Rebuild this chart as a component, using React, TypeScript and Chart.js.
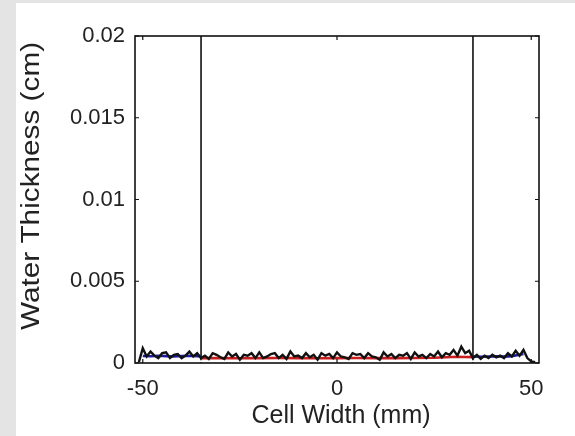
import React, { useEffect, useRef } from "react";
import { Chart, registerables } from "chart.js";

Chart.register(...registerables);

// Cell width positions (mm) for the full measured trace
const traceWidth = [
  -51, -50, -49, -48, -47, -46, -45, -44, -43, -42, -41, -40, -39, -38, -37, -36, -35, -34,
  -33, -32, -31, -30, -29, -28, -27, -26, -25, -24, -23, -22, -21, -20, -19, -18, -17, -16,
  -15, -14, -13, -12, -11, -10, -9, -8, -7, -6, -5, -4, -3, -2, -1, 0, 1, 2, 3, 4, 5, 6, 7,
  8, 9, 10, 11, 12, 13, 14, 15, 16, 17, 18, 19, 20, 21, 22, 23, 24, 25, 26, 27, 28, 29, 30,
  31, 32, 33, 34, 35, 36, 37, 38, 39, 40, 41, 42, 43, 44, 45, 46, 47, 48, 49, 50, 51,
];
// Measured water thickness (cm)
const traceThickness = [
  0.00005, 0.0009, 0.0004, 0.0007, 0.00045, 0.0003, 0.0006, 0.00065, 0.0003, 0.0005,
  0.00055, 0.0003, 0.00045, 0.0007, 0.0004, 0.0006, 0.0003, 0.00045, 0.00025, 0.0006,
  0.0005, 0.00035, 0.00025, 0.00065, 0.0004, 0.00055, 0.0002, 0.0005, 0.00045, 0.0006,
  0.0003, 0.00065, 0.0003, 0.0004, 0.00055, 0.0006, 0.0003, 0.0005, 0.00025, 0.0007,
  0.0004, 0.00045, 0.0003, 0.0006, 0.00035, 0.0005, 0.0002, 0.0006, 0.00045, 0.00055,
  0.0003, 0.00065, 0.0004, 0.00035, 0.00025, 0.0006, 0.0005, 0.00055, 0.0003, 0.0006,
  0.0004, 0.00035, 0.0002, 0.00065, 0.0004, 0.00055, 0.0003, 0.0005, 0.00045, 0.0006,
  0.00025, 0.00065, 0.0004, 0.0005, 0.0003, 0.00055, 0.0004, 0.0007, 0.00035, 0.0006,
  0.0005, 0.0008, 0.00045, 0.001, 0.0006, 0.00075, 0.0003, 0.0005, 0.00025, 0.00045,
  0.0003, 0.0005, 0.00035, 0.00045, 0.0003, 0.0006, 0.0004, 0.00075, 0.00045, 0.0008,
  0.0003, 0.0001, 0.00005,
];
// Lower envelope of the trace
const floorWidth = [-49, 49];
const floorThickness = [0.0001, 0.0001];

// Smoothed thickness outside the cell walls (left and right margins)
const edgeLeftWidth = [-50, -48, -46, -44, -42, -40, -38, -36, -35];
const edgeLeftThickness = [0.00043, 0.00041, 0.00044, 0.00042, 0.0004, 0.00043, 0.00044, 0.00041, 0.00042];
const edgeRightWidth = [35, 37, 39, 41, 43, 45, 47, 48];
const edgeRightThickness = [0.0004, 0.00038, 0.0004, 0.00041, 0.00039, 0.00042, 0.0005, 0.00055];

// Smoothed thickness inside the cell
const innerWidth = [-35, -30, -25, -20, -15, -10, -5, 0, 5, 10, 15, 20, 25, 28, 31, 33, 35];
const innerThickness = [
  0.0003, 0.00031, 0.00029, 0.0003, 0.00031, 0.0003, 0.00029, 0.0003, 0.00031, 0.0003,
  0.0003, 0.00031, 0.00032, 0.00035, 0.00038, 0.00037, 0.00036,
];

// Cell wall positions (mm)
const wallPositions = [-35, 35];

const xRange = [-52, 52];
const yRange = [0, 0.02];
const xTicks = [-50, 0, 50];
const yTicks = [0, 0.005, 0.01, 0.015, 0.02];
const yTickLabels = ["0", "0.005", "0.01", "0.015", "0.02"];
const xTitle = "Cell Width (mm)";
const yTitle = "Water Thickness (cm)";

const pts = (xs: number[], ys: number[]) => xs.map((x, i) => ({ x, y: ys[i] }));

const FONT = "'Liberation Sans', Arial, Helvetica, sans-serif";
const INK = "#222222";

// Axes box with inward tick marks on all four sides, plus both axis titles
const boxPlugin = {
  id: "axesBox",
  afterDraw(chart: any) {
    const { ctx, chartArea: a, scales } = chart;
    ctx.save();
    ctx.strokeStyle = "#111111";
    ctx.lineWidth = 1.6;
    ctx.strokeRect(a.left, a.top, a.right - a.left, a.bottom - a.top);
    ctx.lineWidth = 1.2;
    const len = 4;
    ctx.beginPath();
    xTicks.forEach((v) => {
      const px = scales.x.getPixelForValue(v);
      ctx.moveTo(px, a.bottom);
      ctx.lineTo(px, a.bottom - len);
      ctx.moveTo(px, a.top);
      ctx.lineTo(px, a.top + len);
    });
    yTicks.forEach((v) => {
      const py = scales.y.getPixelForValue(v);
      ctx.moveTo(a.left, py);
      ctx.lineTo(a.left + len, py);
      ctx.moveTo(a.right, py);
      ctx.lineTo(a.right - len, py);
    });
    ctx.stroke();

    ctx.font = `25px ${FONT}`;
    ctx.fillStyle = INK;
    ctx.textAlign = "center";
    ctx.textBaseline = "middle";
    ctx.fillText(xTitle, 325, 413);

    // y-axis title, set in a slightly elongated face
    ctx.translate(16, 183);
    ctx.rotate(-Math.PI / 2);
    ctx.scale(1.19, 1);
    ctx.fillText(yTitle, 0, 0);
    ctx.restore();
  },
};

export default function App() {
  const ref = useRef<HTMLCanvasElement>(null);

  useEffect(() => {
    document.body.style.margin = "0";
    const line = (data: any[], color: string, width: number) => ({
      data,
      borderColor: color,
      backgroundColor: color,
      borderWidth: width,
      pointRadius: 0,
      showLine: true,
      tension: 0,
    });

    const chart = new Chart(ref.current!, {
      type: "scatter",
      data: {
        datasets: [
          line(pts(traceWidth, traceThickness), "#111111", 2.4),
          line(pts(floorWidth, floorThickness), "#ffffff", 2),
          line(pts(edgeLeftWidth, edgeLeftThickness), "#1c1c9c", 2.6),
          line(pts(edgeRightWidth, edgeRightThickness), "#1c1c9c", 2.6),
          line(pts(innerWidth, innerThickness), "#c81e1e", 2.6),
          line(pts([wallPositions[0], wallPositions[0]], yRange), "#111111", 1.6),
          line(pts([wallPositions[1], wallPositions[1]], yRange), "#111111", 1.6),
        ],
      },
      options: {
        animation: false,
        responsive: false,
        devicePixelRatio: 1,
        layout: { padding: { top: 33, right: 36, left: 0, bottom: 0 } },
        plugins: { legend: { display: false }, tooltip: { enabled: false } },
        scales: {
          x: {
            type: "linear",
            min: xRange[0],
            max: xRange[1],
            grid: { display: false, drawTicks: false, tickLength: 0 },
            border: { display: false },
            afterBuildTicks: (s: any) => {
              s.ticks = xTicks.map((value) => ({ value }));
            },
            afterFit: (s: any) => {
              s.height = 73;
            },
            ticks: {
              padding: 13,
              color: INK,
              font: { family: FONT, size: 22 },
              maxRotation: 0,
              callback: (v: any) => String(v),
            },
            title: { display: false },
          },
          y: {
            type: "linear",
            min: yRange[0],
            max: yRange[1],
            grid: { display: false, drawTicks: false, tickLength: 0 },
            border: { display: false },
            afterBuildTicks: (s: any) => {
              s.ticks = yTicks.map((value) => ({ value }));
            },
            afterFit: (s: any) => {
              s.width = 119;
            },
            ticks: {
              padding: 10,
              color: INK,
              font: { family: FONT, size: 22 },
              callback: (v: any) => yTickLabels[yTicks.indexOf(v)] ?? String(v),
            },
            title: { display: false },
          },
        },
      },
      plugins: [boxPlugin],
    });
    return () => chart.destroy();
  }, []);

  return (
    <div style={{ position: "relative", width: 575, height: 436, background: "#e4e4e4" }}>
      <div style={{ position: "absolute", left: 16, top: 3, width: 559, height: 433, background: "#ffffff" }}>
        <canvas ref={ref} width={559} height={433} style={{ display: "block" }} />
      </div>
    </div>
  );
}
